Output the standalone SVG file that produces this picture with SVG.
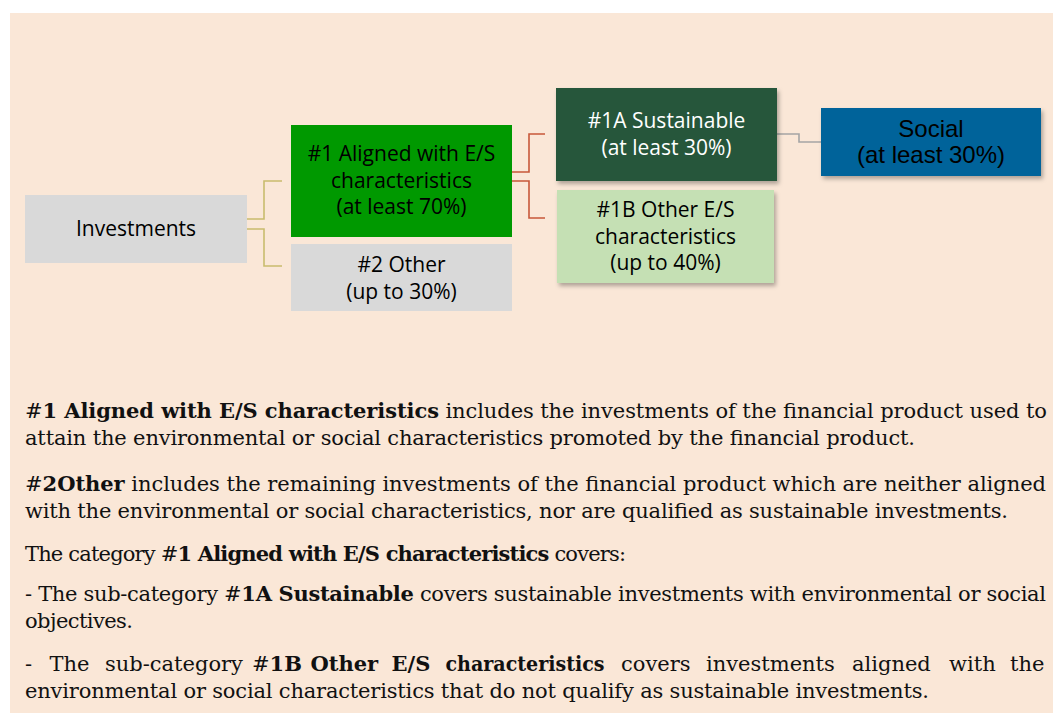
<svg xmlns="http://www.w3.org/2000/svg" width="1053" height="713" viewBox="0 0 1053 713">
<style>
.box{font-family:"Open Sans","Liberation Sans",sans-serif;font-size:21px;fill:#000;text-anchor:middle}
.wh{fill:#fff}
.ar{font-family:"Liberation Sans",Arial,sans-serif;font-size:24px;fill:#000;text-anchor:middle}
.body{font-family:"DejaVu Serif","Liberation Serif",serif;font-size:21px;fill:#111}
.b{font-weight:bold}
.c1{fill:none;stroke:#C9BC6E;stroke-width:1.6}
.c2{fill:none;stroke:#C8583A;stroke-width:1.6}
.c3{fill:none;stroke:#A5A5A5;stroke-width:1.6}
</style>
<defs>
<filter id="sh" x="-10%" y="-10%" width="125%" height="130%">
<feDropShadow dx="2" dy="3" stdDeviation="2" flood-color="#000" flood-opacity="0.3"/>
</filter>
</defs>
<rect x="0" y="0" width="1053" height="713" fill="#fff"/>
<rect x="10" y="13" width="1043" height="700" fill="#FAE7D7"/>

<g id="connectors">
<path class="c1" d="M247 219 H264 V181 H282"/>
<path class="c1" d="M247 229 H264 V266 H282"/>
<path class="c2" d="M512 172 H529 V134 H545"/>
<path class="c2" d="M512 181 H529 V218 H545"/>
<path class="c3" d="M777 134 H799 V142 H821"/>
</g>

<g id="investments">
<rect x="25" y="195" width="222" height="68" fill="#D9D9D9"/>
<text class="box" x="136" y="236">Investments</text>
</g>

<g id="aligned">
<rect x="291" y="125" width="221" height="112" fill="#009900"/>
<text class="box" x="401.5" y="161">#1 Aligned with E/S</text>
<text class="box" x="401.5" y="187.5">characteristics</text>
<text class="box" x="401.5" y="214">(at least 70%)</text>
</g>

<g id="other">
<rect x="291" y="244" width="221" height="67" fill="#D9D9D9"/>
<text class="box" x="401.5" y="272">#2 Other</text>
<text class="box" x="401.5" y="298.5">(up to 30%)</text>
</g>

<g id="sustainable">
<rect x="556" y="88" width="221" height="93" fill="#27573A" filter="url(#sh)"/>
<text class="box wh" x="666.5" y="128">#1A Sustainable</text>
<text class="box wh" x="666.5" y="154.5">(at least 30%)</text>
</g>

<g id="other-es">
<rect x="557" y="190" width="217" height="93" fill="#C5E0B4" filter="url(#sh)"/>
<text class="box" x="665.5" y="217">#1B Other E/S</text>
<text class="box" x="665.5" y="243.5">characteristics</text>
<text class="box" x="665.5" y="270">(up to 40%)</text>
</g>

<g id="social">
<rect x="821" y="108" width="220" height="68" fill="#00649A" filter="url(#sh)"/>
<text class="ar" x="931" y="137">Social</text>
<text class="ar" x="931" y="163">(at least 30%)</text>
</g>

<g id="description" class="body">
<text x="25" y="418" textLength="1022" lengthAdjust="spacing">#<tspan class="b">1 Aligned with E/S characteristics</tspan> includes the investments of the financial product used to</text>
<text x="25" y="445" textLength="890" lengthAdjust="spacing">attain the environmental or social characteristics promoted by the financial product.</text>
<text x="25" y="491" textLength="1021" lengthAdjust="spacing">#<tspan class="b">2Other</tspan> includes the remaining investments of the financial product which are neither aligned</text>
<text x="25" y="518" textLength="983" lengthAdjust="spacing">with the environmental or social characteristics, nor are qualified as sustainable investments.</text>
<text x="25" y="561" textLength="601" lengthAdjust="spacing">The category #<tspan class="b">1 Aligned with E/S characteristics</tspan> covers:</text>
<text x="25" y="601" textLength="1021" lengthAdjust="spacing">- The sub-category #<tspan class="b">1A Sustainable</tspan> covers sustainable investments with environmental or social</text>
<text x="25" y="628" textLength="108" lengthAdjust="spacing">objectives.</text>
<text y="671"><tspan x="25">-</tspan><tspan x="49.5">The</tspan><tspan x="105">sub-category</tspan><tspan x="252">#</tspan><tspan class="b">1B</tspan><tspan x="310.5" class="b">Other</tspan><tspan x="391.5" class="b">E/S</tspan><tspan x="445.5" class="b" textLength="159" lengthAdjust="spacingAndGlyphs">characteristics</tspan><tspan x="621">covers</tspan><tspan x="706">investments</tspan><tspan x="852">aligned</tspan><tspan x="949">with</tspan><tspan x="1010">the</tspan></text>
<text x="25" y="698" textLength="904" lengthAdjust="spacing">environmental or social characteristics that do not qualify as sustainable investments.</text>
</g>
</svg>
